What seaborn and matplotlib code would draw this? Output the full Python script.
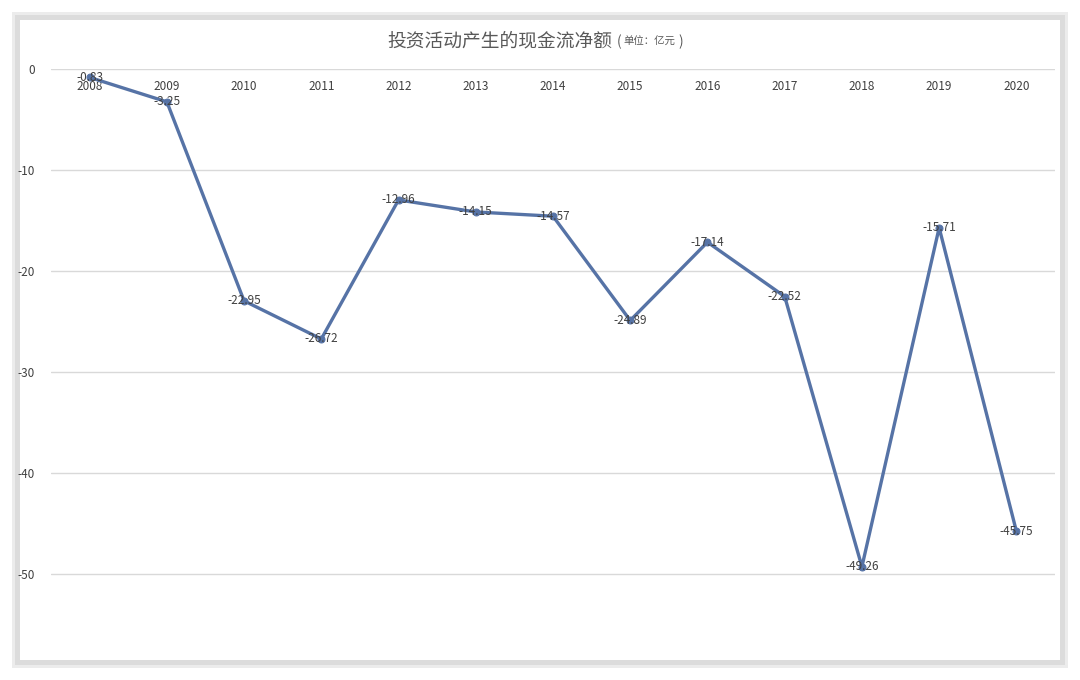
import matplotlib
matplotlib.use("Agg")
import matplotlib.pyplot as plt
from matplotlib.patches import Rectangle
import seaborn as sns
import pandas as pd

years = ["2008", "2009", "2010", "2011", "2012", "2013", "2014",
         "2015", "2016", "2017", "2018", "2019", "2020"]
values = [-0.83, -3.25, -22.95, -26.72, -12.96, -14.15, -14.57,
          -24.89, -17.14, -22.52, -49.26, -15.71, -45.75]
y_ticks = [0, -10, -20, -30, -40, -50]

sns.set_style("white")
plt.rcParams['font.family'] = ['Noto Sans CJK SC', 'DejaVu Sans']

df = pd.DataFrame({"pos": range(len(years)), "year": years, "value": values})

fig = plt.figure(figsize=(10.8, 6.8), dpi=100)
fig.patch.set_facecolor("white")
# card with soft grey frame
fig.patches.append(Rectangle((12 / 1080, 1 - 668 / 680), 1056 / 1080, 656 / 680,
                             transform=fig.transFigure, facecolor="#ececec",
                             edgecolor="none", zorder=-3))
fig.patches.append(Rectangle((15 / 1080, 1 - 665 / 680), 1050 / 1080, 650 / 680,
                             transform=fig.transFigure, facecolor="#dcdcdc",
                             edgecolor="none", zorder=-2))
fig.patches.append(Rectangle((20 / 1080, 1 - 660 / 680), 1040 / 1080, 640 / 680,
                             transform=fig.transFigure, facecolor="white",
                             edgecolor="none", zorder=-1))

ax = fig.add_axes([51 / 1080, 1 - 655 / 680, 1004 / 1080, 586 / 680])
ax.set_facecolor("none")
ax.set_zorder(2)

line_color = "#5673a6"
sns.lineplot(data=df, x="pos", y="value", ax=ax, color=line_color,
             linewidth=2.4, marker="o", markersize=5,
             markeredgecolor=line_color)

for x, v in zip(df["pos"], df["value"]):
    ax.text(x, v, f"{v:.2f}", ha="center", va="center", fontsize=8.5,
            color="#404040", zorder=5)

ax.set_xlim(-0.5, len(years) - 0.5)
ax.set_ylim(-58, 0)
ax.set_yticks(y_ticks)
ax.set_yticklabels([str(t) for t in y_ticks])
ax.set_xticks(df["pos"])
ax.set_xticklabels(years)
ax.yaxis.grid(True, color="#d9d9d9", linewidth=1)
ax.tick_params(axis="x", bottom=False, top=False, labelbottom=False,
               labeltop=True, pad=-21, labelsize=8.5, labelcolor="#404040")
ax.tick_params(axis="y", left=False, pad=8, labelsize=8.5, labelcolor="#404040")
ax.set_xlabel("")
ax.set_ylabel("")
for s in ax.spines.values():
    s.set_visible(False)

fig.text(612 / 1080, 1 - 41 / 680, "投资活动产生的现金流净额", ha="right", va="center",
         fontsize=13.5, color="#595959")
fig.text(617 / 1080, 1 - 42 / 680, "(", ha="left", va="center", fontsize=10, color="#595959")
fig.text(623 / 1080, 1 - 42 / 680, "单位：亿元", ha="left", va="center", fontsize=7.5,
         color="#595959")
fig.text(678 / 1080, 1 - 42 / 680, ")", ha="left", va="center", fontsize=10, color="#595959")

fig.savefig("out.png", dpi=100)
